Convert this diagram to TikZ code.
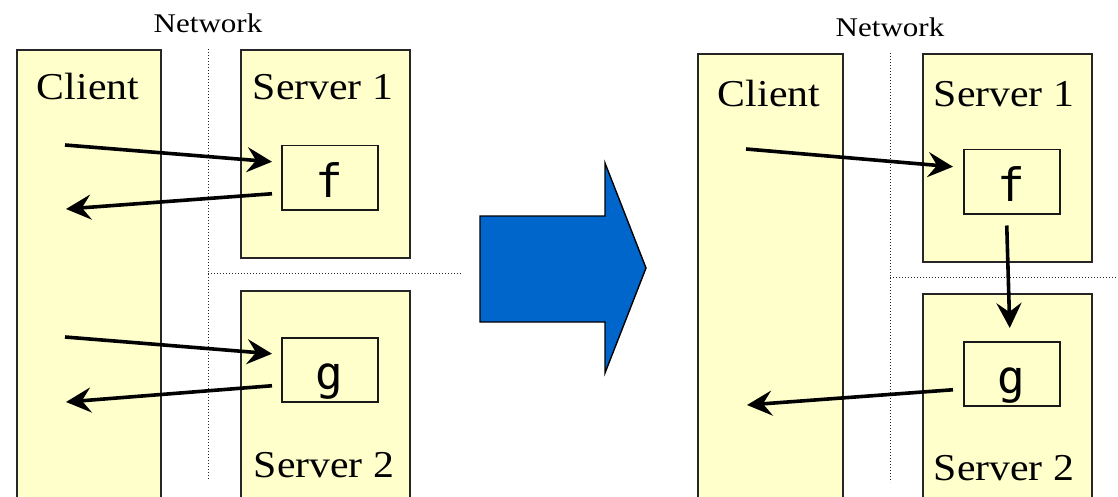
\documentclass[tikz,border=0pt]{standalone}
\usepackage{fontspec}
\setmainfont{Liberation Serif}
\newfontfamily\codefont{DejaVu Sans Mono}
\usetikzlibrary{arrows.meta,calc}
\definecolor{paneyellow}{HTML}{FFFFCC}
\definecolor{bigblue}{HTML}{0066CC}
\begin{document}
\begin{tikzpicture}[x=1pt,y=-1pt,
  machine/.style={draw=black!85,fill=paneyellow,line width=1.6pt,inner sep=0pt,anchor=north west},
  func/.style={draw=black!90,fill=paneyellow,line width=1.5pt,inner sep=0pt,
    minimum width=96pt,minimum height=64pt,anchor=north west,
    font=\codefont\fontsize{46}{46}\selectfont,text height=39pt,text depth=0pt},
  title/.style={font=\fontsize{38}{40}\selectfont,xscale=1.1,inner sep=0pt,anchor=base},
  netlabel/.style={font=\fontsize{27}{28}\selectfont,xscale=1.15,inner sep=0pt,anchor=base},
  boundary/.style={dotted,line width=1pt,black!85},
  flow/.style={line width=3.6pt,-{Stealth[length=25pt,width=25pt,inset=9pt]}}]
\useasboundingbox (0,0) rectangle (1118,497);

% ---------- before: client calls f and g separately ----------
\node[machine,minimum width=144pt,minimum height=452pt] (cl) at (16,49) {};
\node[machine,minimum width=169pt,minimum height=208pt] (s1) at (240,49) {};
\node[machine,minimum width=169pt,minimum height=212pt] (s2) at (240,290) {};
\draw[boundary] (208,49) -- (208,479);
\draw[boundary] (208,273) -- (462,273);
\node[netlabel] (net1) at (208,33) {Network};
\node[title] (cllab) at (88,100) {Client};
\node[title] (s1lab) at (323,100) {Server 1};
\node[title] (s2lab) at (324,477) {Server 2};
\node[func] (f) at (281,145) {f};
\node[func] (g) at (281,337) {g};

\coordinate (callf) at (65,145);
\coordinate (retf) at (66,209);
\coordinate (callg) at (65,337);
\coordinate (retg) at (66,402);
\draw[flow] (callf) -- ($(f.west)+(-9,-16)$);
\draw[flow] ($(f.west)+(-9,16)$) -- (retf);
\draw[flow] (callg) -- ($(g.west)+(-9,-16)$);
\draw[flow] ($(g.west)+(-9,16)$) -- (retg);

% ---------- transformation arrow ----------
\draw[fill=bigblue,line width=1.4pt,line join=miter]
  (480,216) -- (605,216) -- (605,163) -- (646,268) -- (605,373) -- (605,322) -- (480,322) -- cycle;

% ---------- after: f calls g directly ----------
\node[machine,minimum width=145pt,minimum height=448pt] (cr) at (697,53) {};
\node[machine,minimum width=169pt,minimum height=208pt] (t1) at (922,53) {};
\node[machine,minimum width=169pt,minimum height=210pt] (t2) at (922,293) {};
\draw[boundary] (890,53) -- (890,482);
\draw[boundary] (890,277) -- (1118,277);
\node[netlabel] (net2) at (890,37) {Network};
\node[title] (crlab) at (769,107) {Client};
\node[title] (t1lab) at (1004,107) {Server 1};
\node[title] (t2lab) at (1004,480) {Server 2};
\node[func] (f2) at (963,149) {f};
\node[func] (g2) at (963,341) {g};

\coordinate (callf2) at (746,149);
\coordinate (retg2) at (747,405);
\draw[flow] (callf2) -- ($(f2.west)+(-10,-15)$);
\draw[flow] ($(f2.south)+(-5,11)$) -- ($(g2.north)+(-2,-13)$);
\draw[flow] ($(g2.west)+(-10,16)$) -- (retg2);
\end{tikzpicture}
\end{document}
